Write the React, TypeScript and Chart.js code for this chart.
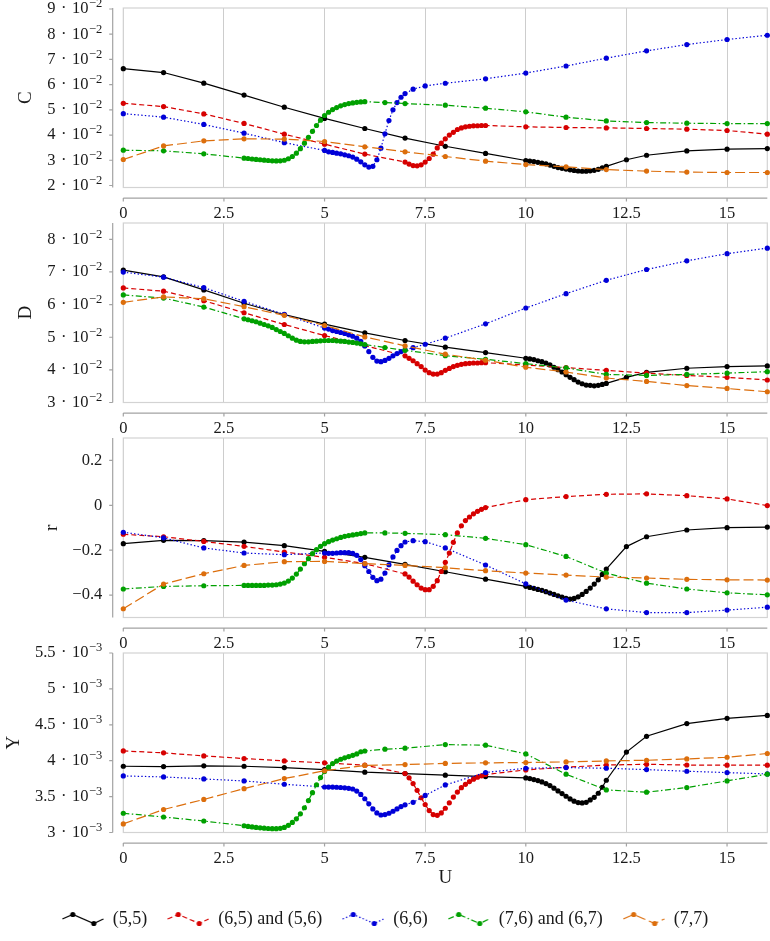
import React, { useEffect, useRef } from 'react';
import { Chart, registerables } from 'chart.js';

Chart.register(...registerables);

const FONT = "'Liberation Serif', 'Times New Roman', serif";
const TEXT = '#1a1a1a';

// U positions for each configuration (denser sampling where the curves bend)
const U_55 = [0, 1, 2, 3, 4, 5, 6, 7, 8, 9, 10, 10.1, 10.2, 10.3, 10.4, 10.5, 10.6, 10.7, 10.8, 10.9, 11, 11.1, 11.2, 11.3, 11.4, 11.5, 11.6, 11.7, 11.8, 11.9, 12, 12.5, 13, 14, 15, 16];
const U_65 = [0, 1, 2, 3, 4, 5, 6, 7, 7.1, 7.2, 7.3, 7.4, 7.5, 7.6, 7.7, 7.8, 7.9, 8, 8.1, 8.2, 8.3, 8.4, 8.5, 8.6, 8.7, 8.8, 8.9, 9, 10, 11, 12, 13, 14, 15, 16];
const U_66 = [0, 1, 2, 3, 4, 5, 5.1, 5.2, 5.3, 5.4, 5.5, 5.6, 5.7, 5.8, 5.9, 6, 6.1, 6.2, 6.3, 6.4, 6.5, 6.6, 6.7, 6.8, 6.9, 7, 7.2, 7.5, 8, 9, 10, 11, 12, 13, 14, 15, 16];
const U_76 = [0, 1, 2, 3, 3.1, 3.2, 3.3, 3.4, 3.5, 3.6, 3.7, 3.8, 3.9, 4, 4.1, 4.2, 4.3, 4.4, 4.5, 4.6, 4.7, 4.8, 4.9, 5, 5.1, 5.2, 5.3, 5.4, 5.5, 5.6, 5.7, 5.8, 5.9, 6, 6.5, 7, 8, 9, 10, 11, 12, 13, 14, 15, 16];
const U_77 = [0, 1, 2, 3, 4, 5, 6, 7, 8, 9, 10, 11, 12, 13, 14, 15, 16];

// C, in units of 10^-2
const C_55 = [6.635, 6.48, 6.06, 5.585, 5.105, 4.66, 4.26, 3.88, 3.555, 3.27, 2.99, 2.97, 2.95, 2.92, 2.89, 2.86, 2.81, 2.76, 2.71, 2.68, 2.65, 2.62, 2.595, 2.575, 2.565, 2.565, 2.58, 2.6, 2.64, 2.7, 2.76, 3.02, 3.2, 3.37, 3.44, 3.465];
const C_65 = [5.26, 5.13, 4.84, 4.46, 4.035, 3.64, 3.245, 2.93, 2.85, 2.79, 2.78, 2.82, 2.93, 3.07, 3.24, 3.49, 3.68, 3.85, 4.0, 4.11, 4.22, 4.285, 4.325, 4.35, 4.365, 4.37, 4.38, 4.38, 4.325, 4.3, 4.285, 4.26, 4.235, 4.18, 4.035];
const C_66 = [4.85, 4.71, 4.42, 4.075, 3.7, 3.39, 3.335, 3.31, 3.28, 3.255, 3.215, 3.18, 3.125, 3.045, 2.94, 2.82, 2.73, 2.76, 3.02, 3.48, 4.05, 4.575, 5.0, 5.29, 5.5, 5.645, 5.82, 5.95, 6.055, 6.23, 6.46, 6.74, 7.05, 7.34, 7.59, 7.79, 7.96];
const C_76 = [3.4, 3.375, 3.255, 3.085, 3.07, 3.05, 3.035, 3.02, 3.005, 2.99, 2.98, 2.975, 2.98, 3.0, 3.06, 3.15, 3.28, 3.46, 3.68, 3.91, 4.15, 4.38, 4.59, 4.775, 4.905, 5.01, 5.09, 5.16, 5.21, 5.25, 5.275, 5.3, 5.315, 5.325, 5.29, 5.25, 5.185, 5.065, 4.92, 4.71, 4.56, 4.495, 4.47, 4.455, 4.455];
const C_77 = [3.03, 3.57, 3.77, 3.85, 3.84, 3.745, 3.535, 3.335, 3.15, 2.965, 2.83, 2.74, 2.63, 2.57, 2.53, 2.515, 2.515];

// D, in units of 10^-2
const D_55 = [7.055, 6.85, 6.45, 6.04, 5.69, 5.4, 5.135, 4.9, 4.695, 4.53, 4.355, 4.335, 4.315, 4.28, 4.25, 4.21, 4.15, 4.08, 4.005, 3.935, 3.85, 3.77, 3.7, 3.625, 3.575, 3.535, 3.525, 3.51, 3.525, 3.555, 3.585, 3.77, 3.925, 4.05, 4.1, 4.12];
const D_65 = [6.51, 6.41, 6.12, 5.75, 5.39, 5.05, 4.745, 4.43, 4.355, 4.28, 4.19, 4.1, 3.995, 3.915, 3.87, 3.87, 3.915, 3.985, 4.045, 4.1, 4.14, 4.17, 4.19, 4.2, 4.21, 4.21, 4.22, 4.22, 4.15, 4.07, 3.985, 3.9, 3.83, 3.77, 3.69];
const D_66 = [6.995, 6.84, 6.52, 6.1, 5.7, 5.28, 5.25, 5.205, 5.175, 5.145, 5.115, 5.075, 5.03, 4.97, 4.87, 4.735, 4.56, 4.385, 4.27, 4.25, 4.29, 4.355, 4.43, 4.5, 4.56, 4.61, 4.68, 4.785, 4.97, 5.41, 5.895, 6.335, 6.745, 7.075, 7.34, 7.56, 7.73];
const D_76 = [6.295, 6.2, 5.925, 5.565, 5.535, 5.505, 5.475, 5.43, 5.39, 5.35, 5.3, 5.235, 5.175, 5.115, 5.045, 4.97, 4.91, 4.87, 4.86, 4.86, 4.87, 4.88, 4.89, 4.9, 4.9, 4.9, 4.89, 4.88, 4.87, 4.85, 4.84, 4.82, 4.8, 4.775, 4.685, 4.6, 4.435, 4.325, 4.19, 4.06, 3.86, 3.83, 3.86, 3.9, 3.945];
const D_77 = [6.07, 6.235, 6.18, 5.935, 5.67, 5.36, 5.01, 4.735, 4.48, 4.295, 4.08, 3.935, 3.75, 3.645, 3.52, 3.43, 3.33];

// r
const R_55 = [-0.171, -0.156, -0.157, -0.164, -0.18, -0.205, -0.232, -0.263, -0.296, -0.329, -0.361, -0.366, -0.37, -0.375, -0.379, -0.385, -0.391, -0.397, -0.403, -0.409, -0.415, -0.418, -0.415, -0.408, -0.397, -0.384, -0.369, -0.351, -0.332, -0.308, -0.284, -0.184, -0.14, -0.11, -0.0995, -0.097];
const R_65 = [-0.129, -0.14, -0.161, -0.183, -0.208, -0.232, -0.26, -0.306, -0.32, -0.338, -0.354, -0.369, -0.376, -0.376, -0.361, -0.336, -0.295, -0.254, -0.213, -0.165, -0.123, -0.091, -0.068, -0.052, -0.038, -0.027, -0.018, -0.01, 0.025, 0.039, 0.049, 0.051, 0.043, 0.0285, -0.0013];
const R_66 = [-0.12, -0.145, -0.19, -0.2125, -0.22, -0.2125, -0.214, -0.214, -0.2125, -0.211, -0.211, -0.211, -0.214, -0.223, -0.242, -0.269, -0.295, -0.321, -0.336, -0.329, -0.302, -0.265, -0.23, -0.201, -0.18, -0.1635, -0.1575, -0.162, -0.19, -0.266, -0.35, -0.4225, -0.4615, -0.478, -0.478, -0.467, -0.454];
const R_76 = [-0.373, -0.3615, -0.3585, -0.357, -0.357, -0.357, -0.357, -0.357, -0.357, -0.3555, -0.3555, -0.354, -0.351, -0.3466, -0.3377, -0.3243, -0.3064, -0.284, -0.26, -0.238, -0.2156, -0.1978, -0.183, -0.171, -0.162, -0.155, -0.149, -0.143, -0.138, -0.135, -0.132, -0.129, -0.126, -0.123, -0.123, -0.125, -0.131, -0.147, -0.1755, -0.228, -0.302, -0.347, -0.373, -0.39, -0.399];
const R_77 = [-0.461, -0.351, -0.305, -0.268, -0.251, -0.25, -0.26, -0.268, -0.278, -0.2915, -0.302, -0.311, -0.32, -0.324, -0.33, -0.332, -0.333];

// Y, in units of 10^-3
const Y_55 = [3.923, 3.918, 3.928, 3.923, 3.904, 3.876, 3.84, 3.82, 3.798, 3.779, 3.76, 3.751, 3.737, 3.723, 3.705, 3.681, 3.653, 3.617, 3.579, 3.542, 3.505, 3.468, 3.436, 3.417, 3.412, 3.42, 3.454, 3.49, 3.547, 3.63, 3.728, 4.12, 4.34, 4.517, 4.59, 4.63];
const Y_65 = [4.136, 4.109, 4.067, 4.03, 3.997, 3.97, 3.937, 3.822, 3.761, 3.681, 3.587, 3.484, 3.39, 3.305, 3.249, 3.239, 3.272, 3.338, 3.413, 3.493, 3.563, 3.624, 3.671, 3.709, 3.742, 3.77, 3.789, 3.808, 3.872, 3.909, 3.94, 3.95, 3.94, 3.937, 3.937];
const Y_66 = [3.788, 3.774, 3.746, 3.718, 3.672, 3.634, 3.633, 3.632, 3.63, 3.627, 3.622, 3.615, 3.606, 3.577, 3.53, 3.47, 3.4, 3.329, 3.272, 3.244, 3.249, 3.268, 3.296, 3.329, 3.361, 3.385, 3.42, 3.516, 3.662, 3.836, 3.895, 3.904, 3.895, 3.876, 3.853, 3.834, 3.816];
const Y_76 = [3.268, 3.216, 3.16, 3.094, 3.085, 3.077, 3.07, 3.065, 3.06, 3.056, 3.053, 3.053, 3.058, 3.07, 3.1, 3.14, 3.19, 3.26, 3.345, 3.445, 3.555, 3.665, 3.765, 3.85, 3.91, 3.96, 3.995, 4.02, 4.04, 4.058, 4.075, 4.095, 4.125, 4.135, 4.16, 4.174, 4.224, 4.216, 4.095, 3.812, 3.593, 3.561, 3.626, 3.719, 3.812];
const Y_77 = [3.12, 3.32, 3.46, 3.611, 3.751, 3.86, 3.934, 3.946, 3.962, 3.97, 3.974, 3.983, 3.997, 4.006, 4.025, 4.048, 4.1];

// Tick positions
const U_TICKS = [0, 2.5, 5, 7.5, 10, 12.5, 15];
const C_TICKS = [2, 3, 4, 5, 6, 7, 8, 9];
const D_TICKS = [3, 4, 5, 6, 7, 8];
const R_TICKS = [-0.4, -0.2, 0, 0.2];
const Y_TICKS = [3, 3.5, 4, 4.5, 5, 5.5];

const SERIES_LABELS = ['(5,5)', '(6,5) and (5,6)', '(6,6)', '(7,6) and (6,7)', '(7,7)'];
const SERIES_COLORS = ['#000000', '#d60000', '#0000d8', '#00a000', '#dc6e0c'];
const SERIES_DASH = [[], [5, 3], [1.4, 2.2], [6, 2.5, 1.5, 2.5], [10, 4]];
const SERIES_U = [U_55, U_65, U_66, U_76, U_77];

const CHART_LEFT = 123.3;
const PLOT_H = 179.5;
const TITLE_SIZE = 19;
const TICK_SIZE = 16.5;

type Panel = {
  title: string;
  values: number[][];
  min: number;
  max: number;
  ticks: number[];
  power: string;
  titleLeft: number;
  top: number;
  padTop: number;
  height: number;
  last?: boolean;
};

const PANELS: Panel[] = [
  { title: 'C', values: [C_55, C_65, C_66, C_76, C_77], min: 1.92, max: 9.04, ticks: C_TICKS, power: '\u22122', titleLeft: 15.1, top: 0, padTop: 8, height: 245 },
  { title: 'D', values: [D_55, D_65, D_66, D_76, D_77], min: 3, max: 8.5, ticks: D_TICKS, power: '\u22122', titleLeft: 15.1, top: 205, padTop: 18, height: 255 },
  { title: 'r', values: [R_55, R_65, R_66, R_76, R_77], min: -0.5, max: 0.3, ticks: R_TICKS, power: '', titleLeft: 40.6, top: 420, padTop: 18, height: 255 },
  { title: 'Y', values: [Y_55, Y_65, Y_66, Y_76, Y_77], min: 3, max: 5.5, ticks: Y_TICKS, power: '\u22123', titleLeft: 2.6, top: 635, padTop: 18, height: 306, last: true },
];

function fmt(v: number): string {
  const n = Math.round(v * 1000) / 1000;
  return String(n).replace('-', '\u2212');
}

function legendIcon(color: string, dash: number[]): HTMLCanvasElement {
  const c = document.createElement('canvas');
  c.width = 42;
  c.height = 16;
  const g = c.getContext('2d')!;
  const pts: [number, number][] = [[0.5, 8], [11, 3.5], [32, 12.5], [41.5, 8]];
  g.strokeStyle = color;
  g.lineWidth = 1.2;
  g.setLineDash(dash);
  g.beginPath();
  g.moveTo(pts[0][0], pts[0][1]);
  for (let i = 1; i < pts.length; i++) g.lineTo(pts[i][0], pts[i][1]);
  g.stroke();
  g.setLineDash([]);
  g.fillStyle = color;
  [pts[1], pts[2]].forEach(([x, y]) => {
    g.beginPath();
    g.arc(x, y, 2.6, 0, Math.PI * 2);
    g.fill();
  });
  return c;
}

// Light frame around the plot area plus detached axis lines with short ticks
const framePlugin = {
  id: 'detachedAxes',
  beforeDatasetsDraw(chart: any) {
    const { ctx, chartArea: a, scales } = chart;
    const xs = scales.x;
    const ys = scales.y;
    ctx.save();
    ctx.strokeStyle = '#d3d3d3';
    ctx.lineWidth = 1.2;
    ctx.strokeRect(a.left, a.top, a.right - a.left, a.bottom - a.top);
    ctx.strokeStyle = '#a3a3a3';
    ctx.lineWidth = 1.2;
    const ax = a.left - 10.6;
    const ay = a.bottom + 10.6;
    ctx.beginPath();
    ctx.moveTo(ax, a.top);
    ctx.lineTo(ax, a.bottom);
    ys.ticks.forEach((t: any) => {
      const y = ys.getPixelForValue(t.value);
      ctx.moveTo(ax - 3.5, y);
      ctx.lineTo(ax, y);
    });
    ctx.moveTo(a.left, ay);
    ctx.lineTo(a.right, ay);
    xs.ticks.forEach((t: any) => {
      const x = xs.getPixelForValue(t.value);
      ctx.moveTo(x, ay);
      ctx.lineTo(x, ay + 3.5);
    });
    ctx.stroke();
    ctx.restore();
  },
};

// y tick labels of the form "m · 10^e", with a raised, smaller exponent
const yLabelPlugin = {
  id: 'powerLabels',
  afterDraw(chart: any, _args: any, opts: any) {
    const { ctx, chartArea: a, scales } = chart;
    const ys = scales.y;
    const power: string = opts.power || '';
    ctx.save();
    ctx.fillStyle = TEXT;
    ctx.textAlign = 'right';
    ctx.textBaseline = 'middle';
    const xr = a.left - 21;
    ys.ticks.forEach((t: any) => {
      const y = ys.getPixelForValue(t.value);
      let x = xr;
      let main = fmt(t.value);
      if (power) {
        ctx.font = `12.5px ${FONT}`;
        ctx.fillText(power, x, y - 5);
        x -= ctx.measureText(power).width + 0.5;
        main = `${main}\u2004\u00b7\u200410`;
      }
      ctx.font = `${TICK_SIZE}px ${FONT}`;
      ctx.fillText(main, x, y);
    });
    ctx.restore();
  },
};

function PanelChart({ panel }: { panel: Panel }) {
  const ref = useRef<HTMLCanvasElement | null>(null);

  useEffect(() => {
    if (!ref.current) return;
    const legendFont = 18;
    const legendPad = 20;
    const legendH = panel.last ? legendFont + legendPad + 10 : 0;
    const bottomPad = panel.last ? 3 : 0;
    const xAxisH = panel.height - panel.padTop - PLOT_H - legendH - bottomPad;

    const datasets = SERIES_LABELS.map((label, i) => ({
      label,
      data: SERIES_U[i].map((u, j) => ({ x: u, y: panel.values[i][j] })),
      borderColor: SERIES_COLORS[i],
      backgroundColor: SERIES_COLORS[i],
      pointBackgroundColor: SERIES_COLORS[i],
      borderWidth: 1.2,
      borderDash: SERIES_DASH[i],
      pointRadius: 2.6,
      pointHoverRadius: 2.6,
      pointBorderWidth: 0,
      tension: 0,
      clip: false as any,
      order: SERIES_LABELS.length - i,
    }));

    const chart = new Chart(ref.current, {
      type: 'line',
      data: { datasets },
      options: {
        responsive: false,
        animation: false,
        devicePixelRatio: 1,
        events: [],
        layout: {
          autoPadding: false,
          padding: { top: panel.padTop, left: panel.titleLeft, right: 770 - 767.3, bottom: bottomPad },
        },
        plugins: {
          tooltip: { enabled: false },
          powerLabels: { power: panel.power },
          legend: panel.last
            ? {
                display: true,
                position: 'bottom',
                align: 'center',
                labels: {
                  usePointStyle: true,
                  pointStyleWidth: 42,
                  padding: legendPad,
                  color: TEXT,
                  font: { family: FONT, size: legendFont },
                  generateLabels: () =>
                    SERIES_LABELS.map((text, i) => ({
                      text,
                      pointStyle: legendIcon(SERIES_COLORS[i], SERIES_DASH[i]),
                      fillStyle: SERIES_COLORS[i],
                      strokeStyle: SERIES_COLORS[i],
                      lineWidth: 0,
                      hidden: false,
                      datasetIndex: i,
                      fontColor: TEXT,
                    })) as any,
                },
              }
            : { display: false },
        },
        scales: {
          x: {
            type: 'linear',
            min: 0,
            max: 16,
            afterBuildTicks: (s: any) => {
              s.ticks = U_TICKS.map((value) => ({ value }));
            },
            afterFit: (s: any) => {
              s.height = xAxisH;
            },
            grid: { color: '#cdcdcd', lineWidth: 1, drawTicks: false },
            border: { display: false },
            ticks: {
              padding: 16,
              maxRotation: 0,
              autoSkip: false,
              color: TEXT,
              font: { family: FONT, size: TICK_SIZE },
              callback: (v: any) => fmt(Number(v)),
            },
            title: panel.last
              ? { display: true, text: 'U', color: TEXT, font: { family: FONT, size: TITLE_SIZE }, padding: { top: 0, bottom: 0.6 } }
              : { display: false },
          },
          y: {
            type: 'linear',
            min: panel.min,
            max: panel.max,
            afterBuildTicks: (s: any) => {
              s.ticks = panel.ticks.map((value) => ({ value }));
            },
            afterFit: (s: any) => {
              s.width = CHART_LEFT - panel.titleLeft;
            },
            grid: { display: false, drawTicks: false },
            border: { display: false },
            ticks: { display: false },
            title: { display: true, text: panel.title, color: TEXT, font: { family: FONT, size: TITLE_SIZE }, padding: 0 },
          },
        },
      } as any,
      plugins: [framePlugin, yLabelPlugin],
    });
    return () => chart.destroy();
  }, [panel]);

  return (
    <canvas
      ref={ref}
      width={770}
      height={panel.height}
      style={{ position: 'absolute', left: 0, top: panel.top, width: 770, height: panel.height }}
    />
  );
}

export default function App() {
  return (
    <div style={{ position: 'absolute', left: 0, top: 0, width: 770, height: 941, background: '#ffffff', overflow: 'hidden' }}>
      {PANELS.map((p) => (
        <PanelChart key={p.title} panel={p} />
      ))}
    </div>
  );
}
